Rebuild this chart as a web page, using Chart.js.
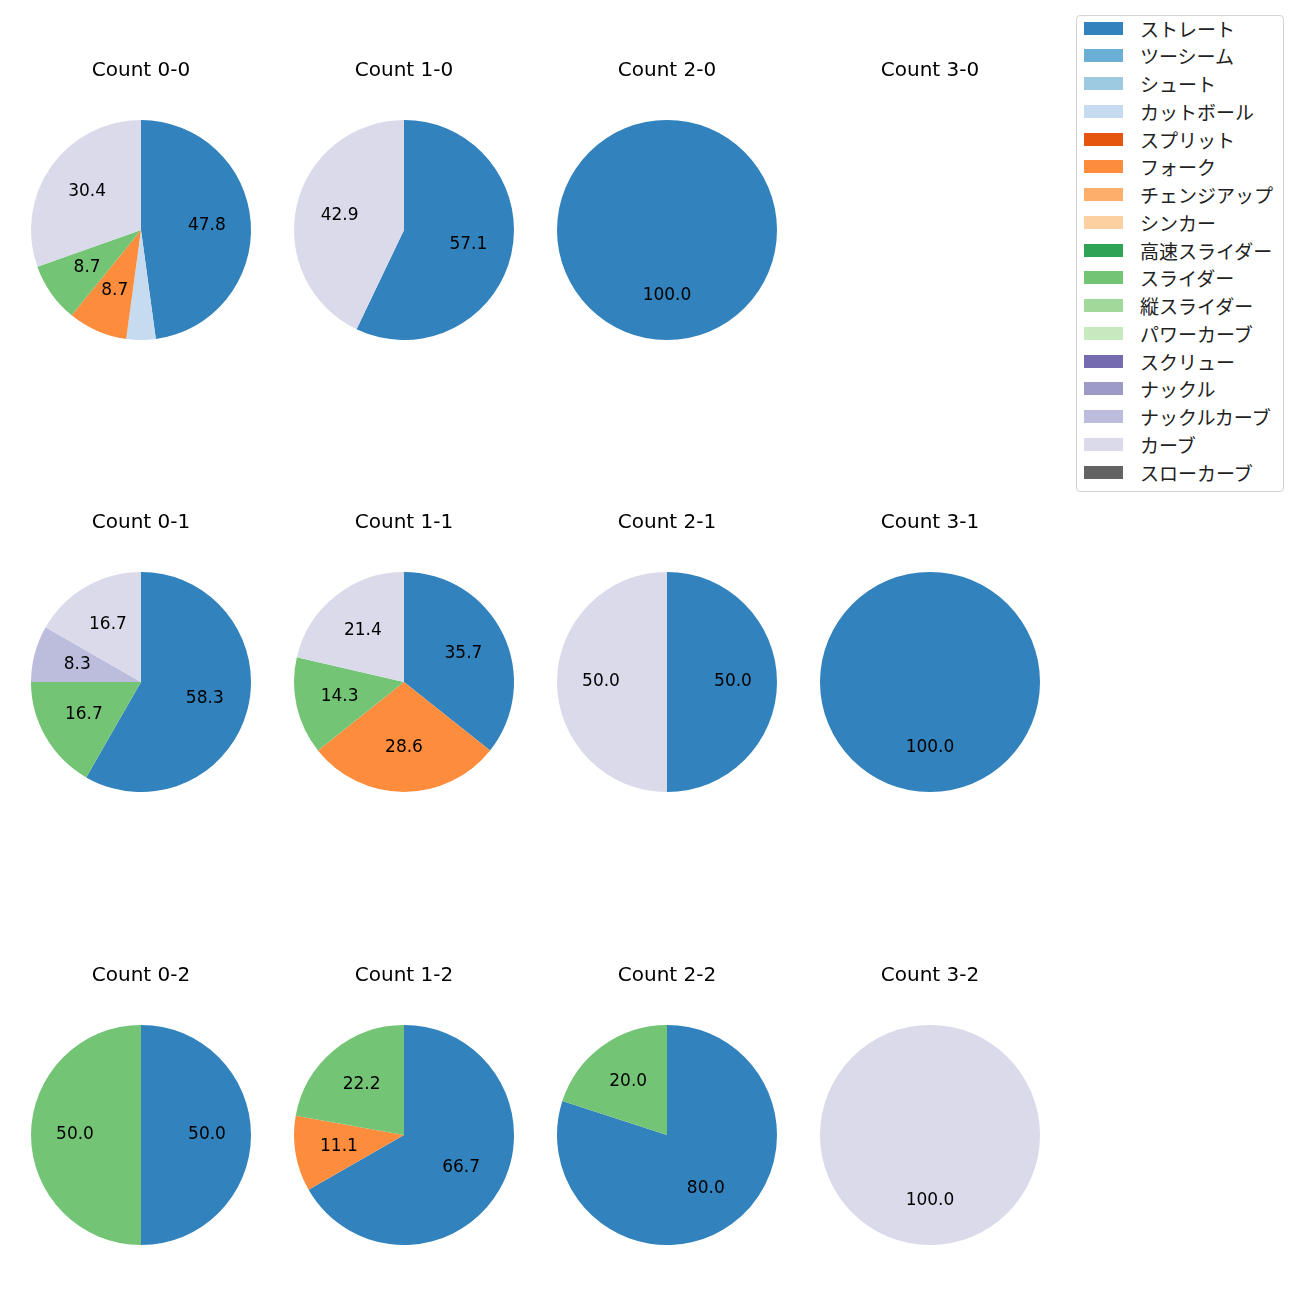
<!DOCTYPE html>
<html>
<head>
<meta charset="utf-8">
<script src="https://cdn.jsdelivr.net/npm/chart.js@4.4.1/dist/chart.umd.min.js"></script>
<style>
  body { margin: 0; background: #fff; font-family: 'DejaVu Sans', 'Noto Sans CJK JP', sans-serif; }
  #page { position: relative; width: 1300px; height: 1300px; }
  .cell { position: absolute; }
  #legend {
    position: absolute; left: 1076px; top: 15px; width: 208px; height: 477px;
    border: 1px solid #d3d3d3; border-radius: 4px; box-sizing: border-box;
  }
  .row { position: absolute; left: 7px; height: 20px; display: flex; align-items: center; }
  .patch { width: 39px; height: 13px; margin-right: 17px; }
  .row span { font-family: 'Noto Sans CJK JP', sans-serif; font-size: 19px; color: #222; white-space: nowrap; }
</style>
</head>
<body>
<div id="page"></div>
<script>
const pitchTypes = ['ストレート', 'ツーシーム', 'シュート', 'カットボール', 'スプリット', 'フォーク', 'チェンジアップ', 'シンカー',
  '高速スライダー', 'スライダー', '縦スライダー', 'パワーカーブ', 'スクリュー', 'ナックル', 'ナックルカーブ', 'カーブ', 'スローカーブ']
const pitchColors = ['#3182bd', '#6baed6', '#9ecae1', '#c6dbef', '#e6550d', '#fd8d3c', '#fdae6b', '#fdd0a2',
  '#31a354', '#74c476', '#a1d99b', '#c7e9c0', '#756bb1', '#9e9ac8', '#bcbddc', '#dadaeb', '#636363']

const countLabels = ['Count 0-0', 'Count 1-0', 'Count 2-0', 'Count 3-0',
  'Count 0-1', 'Count 1-1', 'Count 2-1', 'Count 3-1',
  'Count 0-2', 'Count 1-2', 'Count 2-2', 'Count 3-2']

// share (%) per pitch type, same order as pitchTypes
const count00 = [47.8, 0, 0, 4.3, 0, 8.7, 0, 0, 0, 8.7, 0, 0, 0, 0, 0, 30.4, 0]
const count10 = [57.1, 0, 0, 0, 0, 0, 0, 0, 0, 0, 0, 0, 0, 0, 0, 42.9, 0]
const count20 = [100, 0, 0, 0, 0, 0, 0, 0, 0, 0, 0, 0, 0, 0, 0, 0, 0]
const count30 = [0, 0, 0, 0, 0, 0, 0, 0, 0, 0, 0, 0, 0, 0, 0, 0, 0]
const count01 = [58.3, 0, 0, 0, 0, 0, 0, 0, 0, 16.7, 0, 0, 0, 0, 8.3, 16.7, 0]
const count11 = [35.7, 0, 0, 0, 0, 28.6, 0, 0, 0, 14.3, 0, 0, 0, 0, 0, 21.4, 0]
const count21 = [50, 0, 0, 0, 0, 0, 0, 0, 0, 0, 0, 0, 0, 0, 0, 50, 0]
const count31 = [100, 0, 0, 0, 0, 0, 0, 0, 0, 0, 0, 0, 0, 0, 0, 0, 0]
const count02 = [50, 0, 0, 0, 0, 0, 0, 0, 0, 50, 0, 0, 0, 0, 0, 0, 0]
const count12 = [66.7, 0, 0, 0, 0, 11.1, 0, 0, 0, 22.2, 0, 0, 0, 0, 0, 0, 0]
const count22 = [80, 0, 0, 0, 0, 0, 0, 0, 0, 20, 0, 0, 0, 0, 0, 0, 0]
const count32 = [0, 0, 0, 0, 0, 0, 0, 0, 0, 0, 0, 0, 0, 0, 0, 100, 0]

const countData = [count00, count10, count20, count30, count01, count11, count21, count31, count02, count12, count22, count32]

const colX = [141, 404, 667, 930]
const rowY = [230, 682, 1135]
const R = 110

// percent labels at 0.6 radius, small slices left blank
const pctLabels = {
  id: 'pctLabels',
  afterDatasetsDraw(chart) {
    const { ctx } = chart
    const values = chart.data.datasets[0].data
    const total = values.reduce((a, b) => a + b, 0)
    if (!total) return
    ctx.save()
    ctx.font = '17px "DejaVu Sans", sans-serif'
    ctx.fillStyle = '#000'
    ctx.textAlign = 'center'
    ctx.textBaseline = 'middle'
    chart.getDatasetMeta(0).data.forEach((arc, i) => {
      const pct = values[i] / total * 100
      if (pct < 5) return
      const { x, y, startAngle, endAngle, outerRadius } = arc.getProps(['x', 'y', 'startAngle', 'endAngle', 'outerRadius'], true)
      const mid = (startAngle + endAngle) / 2
      ctx.fillText(pct.toFixed(1), x + Math.cos(mid) * outerRadius * 0.6, y + Math.sin(mid) * outerRadius * 0.6)
    })
    ctx.restore()
  }
}

const page = document.getElementById('page')
const titleBox = 63
const W = 260
const H = titleBox + 2 * R

countData.forEach((values, k) => {
  const cx = colX[k % 4]
  const cy = rowY[Math.floor(k / 4)]
  const div = document.createElement('div')
  div.className = 'cell'
  div.style.left = (cx - W / 2) + 'px'
  div.style.top = (cy - R - titleBox) + 'px'
  const canvas = document.createElement('canvas')
  canvas.width = W
  canvas.height = H
  div.appendChild(canvas)
  page.appendChild(div)

  new Chart(canvas, {
    type: 'pie',
    plugins: [pctLabels],
    data: {
      labels: pitchTypes,
      datasets: [{
        data: values,
        backgroundColor: pitchColors,
        borderWidth: 0,
        hoverOffset: 0,
        offset: 0
      }]
    },
    options: {
      responsive: false,
      animation: false,
      devicePixelRatio: 1,
      layout: { padding: 0 },
      plugins: {
        legend: { display: false },
        tooltip: { enabled: false },
        title: {
          display: true,
          text: countLabels[k],
          color: '#000',
          font: { family: '"DejaVu Sans", sans-serif', size: 20, weight: 'normal', lineHeight: 1.2 },
          padding: { top: 2, bottom: 37 }
        }
      }
    }
  })
})

const legend = document.createElement('div')
legend.id = 'legend'
pitchTypes.forEach((name, i) => {
  const row = document.createElement('div')
  row.className = 'row'
  row.style.top = (2 + i * 27.75) + 'px'
  row.innerHTML = '<div class="patch" style="background:' + pitchColors[i] + '"></div><span>' + name + '</span>'
  legend.appendChild(row)
})
page.appendChild(legend)
</script>
</body>
</html>
